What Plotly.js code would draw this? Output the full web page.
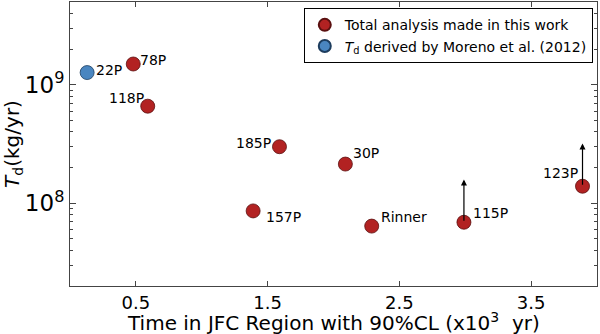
<!DOCTYPE html>
<html>
<head>
<meta charset="utf-8">
<script src="https://cdn.plot.ly/plotly-3.0.1.min.js"></script>
<style>
  html, body { margin: 0; padding: 0; background: #fff; }
  #chart { width: 600px; height: 334px; }
</style>
</head>
<body>
<div id="chart"></div>
<script>
// comets analysed in this work
const names = ['78P', '118P', '185P', '30P', '157P', 'Rinner', '115P', '123P'];
const timeJFC = [0.48, 0.59, 1.59, 2.09, 1.39, 2.29, 2.99, 3.89];
const dustRate = [1.5e9, 6.6e8, 3.0e8, 2.14e8, 8.6e7, 6.4e7, 6.9e7, 1.39e8];
const lowerLimit = [false, false, false, false, false, false, true, true];

// Moreno et al. (2012)
const morenoNames = ['22P'];
const morenoTime = [0.13];
const morenoRate = [1.27e9];

// tick labels
const xTickVals = [0.5, 1.5, 2.5, 3.5];
const xTickText = ['0.5', '1.5', '2.5', '3.5'];
const yTickVals = [1e8, 1e9];
const yTickText = ['10<sup>8</sup>', '10<sup>9</sup>'];

// label offsets in pixels (dx, dy), by name
const labelShift = {
  '22P': [22, 3], '78P': [20, 4], '118P': [-21, 8], '185P': [-26, 4],
  '30P': [21, 11], '157P': [30, -6], 'Rinner': [32, 9], '115P': [27, 9],
  '123P': [-22, 13]
};

const red = '#b22222';
const blue = '#4a86c0';

const traces = [{
  type: 'scatter', mode: 'markers',
  x: timeJFC, y: dustRate,
  name: 'Total analysis made in this work',
  marker: { size: 14, color: red, line: { color: '#5a1010', width: 0.8 } }
}, {
  type: 'scatter', mode: 'markers',
  x: morenoTime, y: morenoRate,
  name: '<i>T</i><sub>d</sub> derived by Moreno et al. (2012)',
  marker: { size: 14, color: blue, line: { color: '#1d3d5e', width: 0.8 } }
}];

const annotations = [];
function addLabel(name, x, y) {
  const s = labelShift[name];
  annotations.push({
    x: x, y: Math.log10(y), text: name, showarrow: false,
    xshift: s[0], yshift: s[1],
    font: { size: 14, color: '#000' }
  });
}
names.forEach((n, i) => addLabel(n, timeJFC[i], dustRate[i]));
morenoNames.forEach((n, i) => addLabel(n, morenoTime[i], morenoRate[i]));

// upward arrows for lower limits
names.forEach((n, i) => {
  if (!lowerLimit[i]) return;
  annotations.push({
    x: timeJFC[i], y: Math.log10(dustRate[i] * 2.3),
    ax: timeJFC[i], ay: Math.log10(dustRate[i]),
    axref: 'x', ayref: 'y', xref: 'x', yref: 'y',
    showarrow: true, arrowhead: 2, arrowsize: 1, arrowwidth: 1.2,
    arrowcolor: '#000', text: ''
  });
});

// x-axis title, placed closer to the tick labels than plotly allows
annotations.push({
  xref: 'paper', yref: 'paper', x: 0.5, y: 0, yanchor: 'middle', yshift: -36,
  showarrow: false,
  text: 'Time in JFC Region with 90%CL (x10<sup>3</sup>  yr)',
  font: { size: 20, color: '#000' }
});

const layout = {
  width: 600, height: 334,
  margin: { l: 70, r: 3, t: 2, b: 48 },
  paper_bgcolor: '#fff', plot_bgcolor: '#fff',
  font: { family: 'DejaVu Sans, sans-serif', color: '#000' },
  showlegend: true,
  legend: {
    x: 0.992, y: 0.978, xanchor: 'right', yanchor: 'top',
    bordercolor: '#000', borderwidth: 1, bgcolor: '#fff',
    font: { size: 14 }, tracegroupgap: 0, itemsizing: 'constant'
  },
  xaxis: {
    range: [0, 4],
    tickvals: xTickVals, ticktext: xTickText,
    ticks: 'inside', ticklen: 5, tickcolor: '#444',
    showline: true, linecolor: '#444', linewidth: 1, mirror: 'allticks',
    showgrid: false, zeroline: false,
    tickfont: { size: 18 }
  },
  yaxis: {
    type: 'log', range: [7.3, 9.7],
    tickvals: yTickVals, ticktext: yTickText,
    ticks: 'inside', ticklen: 6, tickcolor: '#444',
    minor: { ticks: 'inside', ticklen: 3, tickcolor: '#444', dtick: 'D1' },
    showline: true, linecolor: '#444', linewidth: 1, mirror: 'allticks',
    showgrid: false, zeroline: false,
    tickfont: { size: 23 },
    title: { text: '<i>T</i><sub>d</sub>(kg/yr)', font: { size: 20 }, standoff: 2 }
  },
  annotations: annotations
};

Plotly.newPlot('chart', traces, layout, { displayModeBar: false, staticPlot: true });
</script>
</body>
</html>
